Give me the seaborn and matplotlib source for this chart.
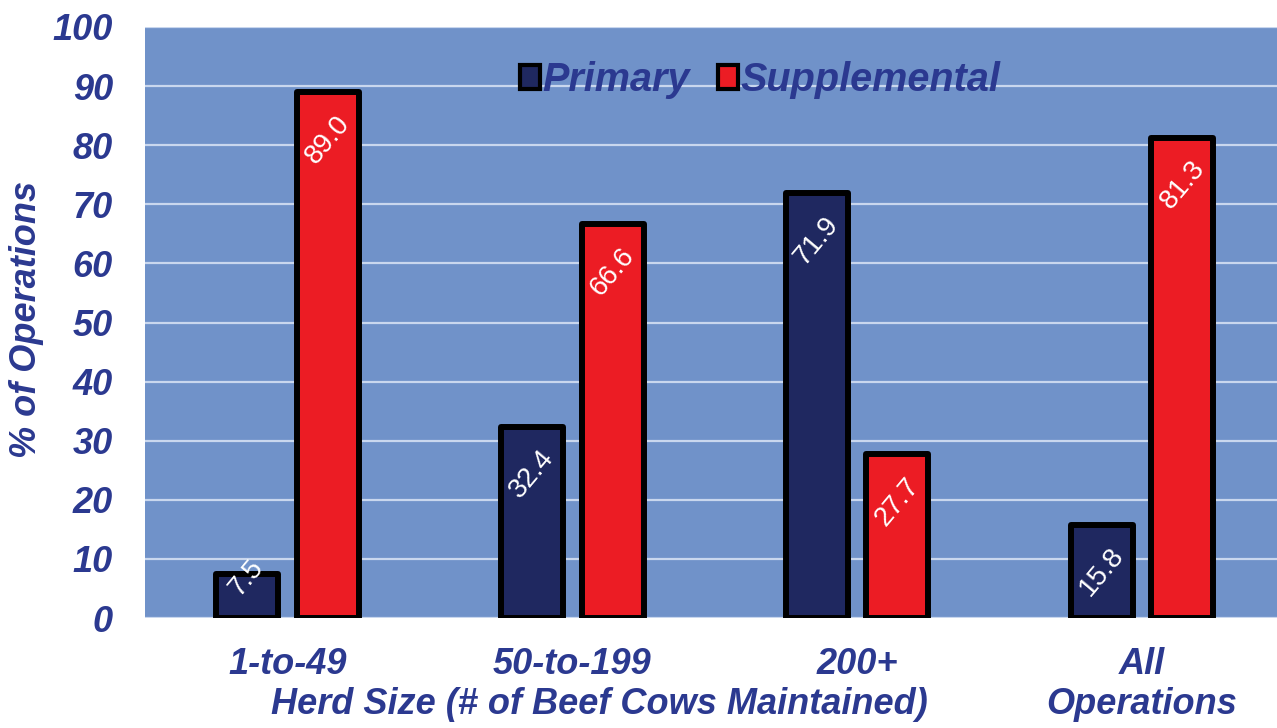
import matplotlib
matplotlib.use("Agg")
import matplotlib.pyplot as plt
from matplotlib.patches import Patch
import seaborn as sns
import pandas as pd

# Herd-size groups and the share of operations using each source
herd_sizes = ["1-to-49", "50-to-199", "200+", "All\nOperations"]
primary = [7.5, 32.4, 71.9, 15.8]
supplemental = [89.0, 66.6, 27.7, 81.3]
series_names = ["Primary", "Supplemental"]
y_ticks = [0, 10, 20, 30, 40, 50, 60, 70, 80, 90, 100]

NAVY_TEXT = "#2B3990"
BAR_NAVY = "#1F2860"
BAR_RED = "#EC1C24"
PLOT_BG = "#7092C9"
GRID = "#C9D7EE"

df = pd.DataFrame({
    "size": herd_sizes * 2,
    "pct": primary + supplemental,
    "source": [series_names[0]] * len(herd_sizes) + [series_names[1]] * len(herd_sizes),
})

sns.set_theme(style="white")
plt.rcParams["font.family"] = ["Liberation Sans", "DejaVu Sans"]

fig = plt.figure(figsize=(12.77, 7.28), dpi=100)
ax = fig.add_axes([145 / 1277, 110 / 728, 1132 / 1277, 591 / 728])
ax.set_facecolor(PLOT_BG)

sns.barplot(
    data=df, x="size", y="pct", hue="source", hue_order=series_names,
    order=herd_sizes, palette=[BAR_NAVY, BAR_RED], width=0.566, gap=0.23,
    edgecolor="black", linewidth=4.3, saturation=1, ax=ax, zorder=3,
)
for patch in ax.patches:
    patch.set_joinstyle("round")

ax.set_ylim(0, 100)
ax.set_xlim(-0.5, 3.474)
ax.set_yticks(y_ticks)
ax.yaxis.grid(True, color=GRID, linewidth=1.6, zorder=0)
ax.set_axisbelow(True)
for s in ax.spines.values():
    s.set_visible(False)

tick_font = dict(fontsize=26, fontweight="bold", fontstyle="italic", color=NAVY_TEXT)
ax.tick_params(axis="both", length=0)
ax.tick_params(axis="y", pad=23)
ax.tick_params(axis="x", pad=21)
for lbl in ax.get_yticklabels():
    lbl.set(**tick_font)
for lbl in ax.get_xticklabels():
    lbl.set(**tick_font, linespacing=1.17)

# value labels inside the top of each bar
for container in ax.containers:
    for bar in container:
        v = bar.get_height()
        xc = bar.get_x() + bar.get_width() / 2
        yc = max(v - 8.0, 6.8)
        ax.text(xc, yc, f"{v:.1f}", rotation=50, ha="center", va="center",
                color="white", fontsize=20, zorder=5)

ax.set_ylabel("% of Operations", **tick_font)
ax.yaxis.label.set_va("center")
ax.yaxis.set_label_coords((27 - 145) / 1132, 0.505)
ax.set_xlabel("Herd Size (# of Beef Cows Maintained)", **tick_font)
ax.xaxis.label.set_va("center")
ax.xaxis.set_label_coords((599 - 145) / 1132, (618 - 704) / 591)

ax.get_legend().remove()
handles = [
    Patch(facecolor=BAR_NAVY, edgecolor="black", linewidth=3),
    Patch(facecolor=BAR_RED, edgecolor="black", linewidth=3),
]
leg = ax.legend(
    handles, series_names, loc="center", bbox_to_anchor=((760 - 145) / 1132, (618 - 80) / 591),
    ncol=2, frameon=False, handlelength=0.52, handleheight=0.52, handletextpad=0.06,
    columnspacing=0.7, prop=dict(family="Liberation Sans", size=28.5, weight="bold", style="italic"),
)
for t in leg.get_texts():
    t.set_color(NAVY_TEXT)

fig.savefig("out.png", dpi=100, facecolor="white")
